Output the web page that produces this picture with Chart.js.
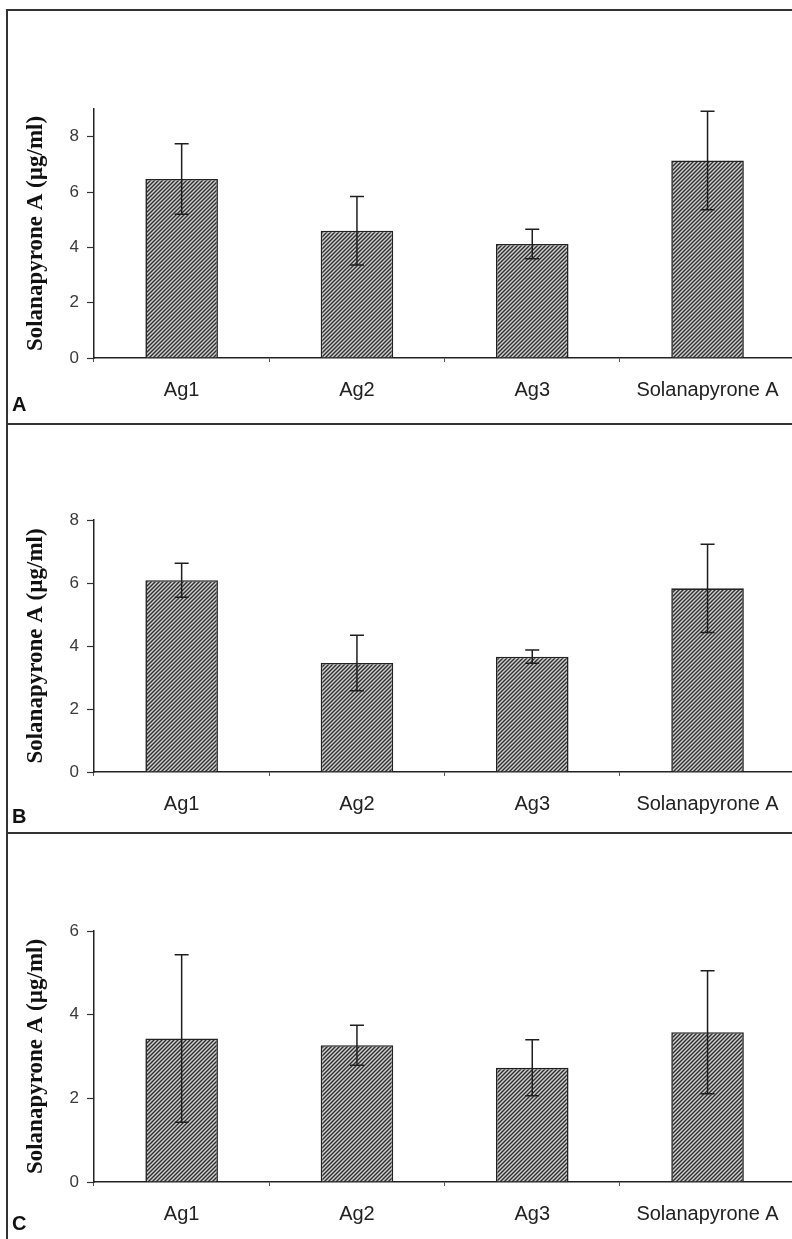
<!DOCTYPE html>
<html>
<head>
<meta charset="utf-8">
<script src="https://cdn.jsdelivr.net/npm/chart.js@4/dist/chart.umd.min.js"></script>
<style>
  html, body { margin: 0; padding: 0; background: #fff; overflow: hidden; }
  #page { position: relative; width: 792px; height: 1239px; overflow: hidden; background: #fff; }
  canvas { position: absolute; left: 0; }
  .rule { position: absolute; background: #333; }
  .lbl { position: absolute; left: 12px; font: bold 20px "Liberation Sans", Arial, sans-serif; line-height: 20px; color: #111; }
</style>
</head>
<body>
<div id="page">
  <div class="rule" style="left:6px;top:9px;width:786px;height:2px"></div>
  <div class="rule" style="left:6px;top:9px;width:2px;height:1230px"></div>
  <div class="rule" style="left:6px;top:423px;width:786px;height:2px"></div>
  <div class="rule" style="left:6px;top:832px;width:786px;height:2px"></div>
  <canvas id="cA"></canvas>
  <canvas id="cB"></canvas>
  <canvas id="cC"></canvas>
  <div class="lbl" style="top:394px">A</div>
  <div class="lbl" style="top:806px">B</div>
  <div class="lbl" style="top:1213px">C</div>
</div>
<script>
// ---- data ----
const categories = ['Ag1', 'Ag2', 'Ag3', 'Solanapyrone A'];
const valuesA = [6.47, 4.60, 4.12, 7.14];
const errorsA = [1.27, 1.24, 0.53, 1.78];
const valuesB = [6.09, 3.46, 3.66, 5.83];
const errorsB = [0.54, 0.88, 0.21, 1.40];
const valuesC = [3.43, 3.27, 2.73, 3.58];
const errorsC = [2.00, 0.48, 0.67, 1.47];
const yMaxA = 9, yMaxB = 8, yMaxC = 6;
const yStep = 2;
const yTitle = 'Solanapyrone A (µg/ml)';

// ---- layout (page coordinates) ----
const panels = [
  { id: 'cA', values: valuesA, errors: errorsA, max: yMaxA, top: 11, bottom: 423, plotTop: 109, plotBottom: 358 },
  { id: 'cB', values: valuesB, errors: errorsB, max: yMaxB, top: 425, bottom: 832, plotTop: 520, plotBottom: 772 },
  { id: 'cC', values: valuesC, errors: errorsC, max: yMaxC, top: 834, bottom: 1239, plotTop: 931, plotBottom: 1182 }
];
const CANVAS_W = 800;
const AXIS_X = 94;

function makeHatch() {
  const c = document.createElement('canvas');
  c.width = 4; c.height = 4;
  const g = c.getContext('2d');
  g.fillStyle = '#cfcfcf';
  g.fillRect(0, 0, 4, 4);
  g.strokeStyle = '#2e2e2e';
  g.lineWidth = 1.4;
  g.beginPath();
  g.moveTo(0, 4); g.lineTo(4, 0);
  g.moveTo(-1, 1); g.lineTo(1, -1);
  g.moveTo(3, 5); g.lineTo(5, 3);
  g.stroke();
  return g.createPattern(c, 'repeat');
}

const errorBars = {
  id: 'errorBars',
  afterDatasetsDraw(chart) {
    const ctx = chart.ctx;
    const y = chart.scales.y;
    const ds = chart.data.datasets[0];
    const meta = chart.getDatasetMeta(0);
    ctx.save();
    ctx.strokeStyle = '#1e1e1e';
    ctx.lineWidth = 1.5;
    meta.data.forEach((bar, i) => {
      const v = ds.data[i], e = ds.errors[i];
      const yt = y.getPixelForValue(v + e);
      const yb = y.getPixelForValue(v - e);
      const cx = bar.x;
      ctx.beginPath();
      ctx.moveTo(cx, yt); ctx.lineTo(cx, yb);
      ctx.moveTo(cx - 7, yt); ctx.lineTo(cx + 7, yt);
      ctx.moveTo(cx - 7, yb); ctx.lineTo(cx + 7, yb);
      ctx.stroke();
    });
    ctx.restore();
  }
};

const hatch = makeHatch();

panels.forEach(p => {
  const cv = document.getElementById(p.id);
  const h = p.bottom - p.top;
  cv.width = CANVAS_W; cv.height = h;
  cv.style.top = p.top + 'px';
  cv.style.width = CANVAS_W + 'px';
  cv.style.height = h + 'px';
  const padTop = p.plotTop - p.top;
  const xH = p.bottom - p.plotBottom;
  new Chart(cv, {
    type: 'bar',
    data: {
      labels: categories,
      datasets: [{
        data: p.values,
        errors: p.errors,
        backgroundColor: hatch,
        borderColor: '#222',
        borderWidth: 1.6,
        categoryPercentage: 1,
        barPercentage: 0.414
      }]
    },
    options: {
      responsive: false,
      devicePixelRatio: 1,
      animation: false,
      layout: { padding: { top: padTop, left: 0, right: CANVAS_W - AXIS_X - 4 * 175.3, bottom: 0 } },
      plugins: { legend: { display: false }, tooltip: { enabled: false } },
      scales: {
        x: {
          offset: true,
          grid: { display: true, offset: true, drawOnChartArea: false, drawTicks: true, tickLength: 4, tickColor: '#555', tickWidth: 1 },
          border: { display: true, color: '#222', width: 1.5 },
          ticks: { color: '#222', padding: 16, maxRotation: 0, autoSkip: false,
                   font: { family: '"Liberation Sans", Arial, sans-serif', size: 20 } },
          afterFit(s) { s.height = xH; }
        },
        y: {
          min: 0, max: p.max,
          grid: { display: true, drawOnChartArea: false, drawTicks: true, tickLength: 7, tickColor: '#333', tickWidth: 1.2 },
          border: { display: true, color: '#222', width: 1.5 },
          ticks: { stepSize: yStep, includeBounds: false, color: '#3a3a3a', padding: 8,
                   font: { family: '"Liberation Sans", Arial, sans-serif', size: 17 } },
          title: { display: true, text: yTitle, color: '#111', padding: { top: 22, bottom: 0 },
                   font: { family: '"Liberation Serif", "Times New Roman", serif', size: 23, weight: 'bold', lineHeight: 1.2 } },
          afterFit(s) { s.width = AXIS_X; }
        }
      }
    },
    plugins: [errorBars]
  });
});
</script>
</body>
</html>
